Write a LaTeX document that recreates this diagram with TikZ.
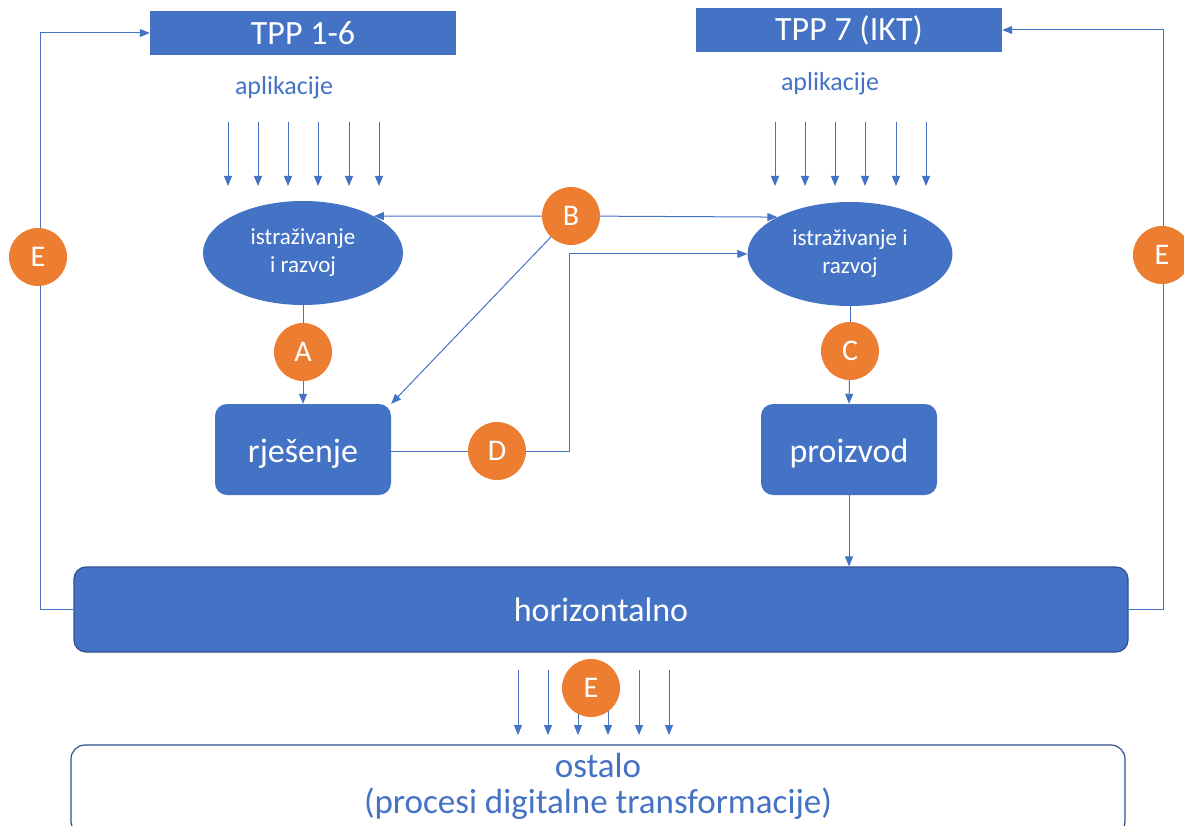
\documentclass[tikz,border=0pt]{standalone}
\usepackage{fontspec}
\setmainfont{Carlito}
\usetikzlibrary{arrows.meta,shapes.geometric}
\definecolor{cblue}{HTML}{4472C4}
\definecolor{corange}{HTML}{ED7D31}
\definecolor{cdark}{HTML}{2F528F}
\begin{document}
\begin{tikzpicture}[x=1pt,y=-1pt,
  conn/.style={draw=cblue, line width=1pt},
  arr/.style={conn,-{Triangle[length=10pt,width=8pt]}},
  tpp/.style={fill=cblue, text=white, minimum width=306pt, minimum height=44pt, inner sep=0pt, font=\fontsize{34}{40}\selectfont},
  apl/.style={text=cblue, font=\fontsize{26}{30}\selectfont, inner sep=0pt},
  ell/.style={ellipse, fill=cblue, text=white, minimum width=200pt, minimum height=104pt, inner sep=0pt, align=center, font=\fontsize{23}{28}\selectfont},
  box/.style={rounded corners=12pt, fill=cblue, text=white, minimum width=176pt, minimum height=91pt, inner sep=0pt, text height=33pt, text depth=7pt, font=\fontsize{34}{40}\selectfont},
  wide/.style={rounded corners=12pt, draw=cdark, line width=1.2pt, minimum width=1054pt, inner sep=0pt},
  lab/.style={circle, fill=corange, text=white, minimum size=58pt, inner sep=0pt, font=\fontsize{30}{34}\selectfont},
]
\useasboundingbox (0,0) rectangle (1184,826);
\fill[white] (0,0) rectangle (1184,826);
% nodes
\node[tpp] (t1) at (303,33) {TPP 1-6};
\node[tpp] (t2) at (849,30) {TPP 7 (IKT)};
\node[apl] (a1) at (284,88) {aplikacije};
\node[apl] (a2) at (830,84) {aplikacije};
\node[ell] (e1) at (303,253) {istraživanje\\i razvoj};
\node[ell, minimum width=205pt] (e2) at (850,254) {istraživanje i\\razvoj};
\node[box] (r) at (303,449.5) {rješenje};
\node[box] (p) at (849,449.5) {proizvod};
\node[wide, fill=cblue, text=white, minimum height=85pt, font=\fontsize{34}{38}\selectfont] (h) at (601,609.5) {horizontalno};
\node[wide, fill=white, minimum height=90pt, rounded corners=14pt] (o) at (598,790) {};
\node[text=cblue, align=center, inner sep=0pt, font=\fontsize{35}{36}\selectfont] (ot) at (598,786) {ostalo\\(procesi digitalne transformacije)};
% application arrows
\foreach \x in {228,258,288,318,349,379} \draw[arr] (\x,122) -- (\x,186);
\foreach \x in {775,805,835,865,896,926} \draw[arr] (\x,122) -- (\x,186);
\foreach \x in {518,548,578,608,639,669} \draw[arr] (\x,670) -- (\x,735);
% circle label positions
\coordinate (Bc) at (571,216);
\coordinate (Ac) at (303,352);
\coordinate (Cc) at (850,351);
\coordinate (Dc) at (497,451);
% connectors
\draw[arr] (h.west) -- (40,609.5) |- (t1.west);
\draw[arr] (h.east) -- (1163,609.5) |- (t2.east);
\draw[arr] (Bc) -- (e1.north east);
\draw[arr] (Bc) -- (e2.north west);
\draw[arr] (Bc) -- (r.north east);
\draw[conn] (e1.south) -- (Ac);
\draw[arr] (Ac) -- (r.north);
\draw[conn] (e2.south) -- (Cc);
\draw[arr] (Cc) -- (p.north);
\draw[conn] (r.east |- Dc) -- (Dc);
\draw[arr] (Dc) -- (569,451) |- (e2.west);
\draw[arr] (p.south) -- (p.south |- h.north);
% labels
\node[lab] (A) at (Ac) {A};
\node[lab] (B) at (Bc) {B};
\node[lab] (C) at (Cc) {C};
\node[lab] (D) at (Dc) {D};
\node[lab] (E1) at (38,257) {E};
\node[lab] (E2) at (1162,255) {E};
\node[lab] (E3) at (591,688) {E};
\end{tikzpicture}
\end{document}
